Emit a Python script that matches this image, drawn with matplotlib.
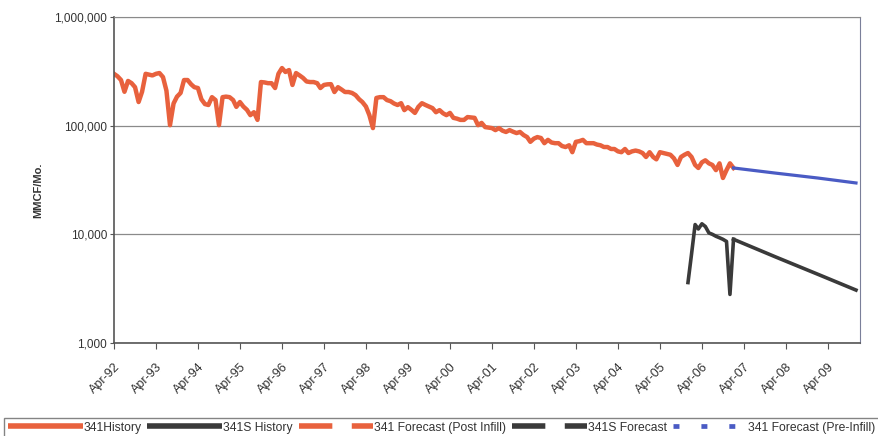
import numpy as np
import pandas as pd
import matplotlib
matplotlib.use("Agg")
import matplotlib.pyplot as plt
import matplotlib.dates as mdates
from matplotlib.lines import Line2D
from matplotlib.ticker import FuncFormatter, NullLocator

plt.rcParams['font.family'] = ['Liberation Sans', 'DejaVu Sans']
plt.rcParams['lines.scale_dashes'] = False

# monthly production, thousand MCF/mo
hist_341_start = "1992-04-01"
hist_341 = [
    300, 285, 263, 205, 258, 246, 226, 165, 205, 300, 295, 290,
    300, 305, 280, 210, 101, 160, 185, 200, 263, 263, 240, 226,
    222, 175, 158, 155, 183, 172, 101, 183, 185, 183, 172, 149,
    165, 150, 140, 125, 133, 113, 252, 250, 246, 246, 222, 300,
    339, 312, 325, 237, 305, 290, 275, 255, 252, 252, 246, 222,
    237, 240, 241, 204, 226, 215, 204, 204, 200, 191, 175, 165,
    150, 125, 95, 180, 183, 183, 172, 168, 160, 155, 161, 139,
    148, 140, 131, 149, 161, 155, 150, 145, 133, 139, 130, 125,
    131, 118, 116, 113, 113, 120, 119, 118, 101, 106, 97, 96,
    95, 91, 95, 90, 87.5, 91, 88, 85.5, 87.5, 82, 78.5, 71,
    76, 78.5, 77, 69, 74, 70, 69, 69, 65, 63.6, 66, 57,
    71, 72, 74, 69, 69, 69, 67, 66, 63.6, 63.6, 61, 61,
    58, 57, 61, 56, 58, 59, 58, 56, 51.5, 57, 51.5, 49,
    57, 56, 55, 54, 50, 43.5, 51.5, 54, 56, 51.5, 43.5, 40.8,
    46, 48, 45, 43.5, 39, 45, 33, 39, 45, 40.8,
]

hist_341s_start = "2005-12-01"
hist_341s = [3.6, 6.6, 12.3, 11.2, 12.5, 11.8, 10.3, 10.0, 9.6, 9.3, 9.0, 8.6, 2.8, 9.0]

fcst_dates = ["2007-01-01", "2008-01-01", "2009-01-01", "2009-12-01"]
fcst_341_pre = [40.8, 36.6, 33.0, 29.7]
fcst_341s = [9.0, 6.2, 4.3, 3.07]

ORANGE = "#E8613D"
DARK = "#3A3A3A"
BLUE = "#4A5BC4"

d341 = pd.date_range(hist_341_start, periods=len(hist_341), freq="MS")
d341s = pd.date_range(hist_341s_start, periods=len(hist_341s), freq="MS")
dfc = pd.to_datetime(fcst_dates)

fig = plt.figure(figsize=(8.79, 4.36), dpi=100)
ax = fig.add_axes([114 / 879, 1 - 343 / 436, (860 - 114) / 879, (343 - 17) / 436])

ax.plot(d341, np.array(hist_341) * 1000, color=ORANGE, lw=3.2, solid_joinstyle="round")
ax.plot(d341s, np.array(hist_341s) * 1000, color=DARK, lw=2.6)
ax.plot(dfc, np.array(fcst_341s) * 1000, color=DARK, lw=2.6)
ax.plot(dfc, np.array(fcst_341_pre) * 1000, color=BLUE, lw=2.3)

ax.set_yscale("log")
ax.set_ylim(1000, 1e6)
ax.yaxis.set_minor_locator(NullLocator())
ax.yaxis.set_major_formatter(FuncFormatter(lambda v, p: f"{v:,.0f}"))
ax.grid(axis="y", which="major", color="#8a8a8a", lw=0.9)

ax.set_xlim(pd.Timestamp("1992-04-01"), pd.Timestamp("2010-01-05"))
ax.xaxis.set_major_locator(mdates.MonthLocator(bymonth=4))
ax.xaxis.set_major_formatter(mdates.DateFormatter("%b-%y"))
ax.tick_params(axis="both", color="#555555", labelcolor="#333333")
ax.tick_params(axis="y", labelsize=8.5, length=3, pad=2)
ax.tick_params(axis="x", labelsize=9, length=4, pad=9)
for lbl in ax.get_xticklabels():
    lbl.set(rotation=45, ha="right", va="top", rotation_mode="anchor")

for side in ["left", "bottom"]:
    ax.spines[side].set_color("#555555")
    ax.spines[side].set_linewidth(1.2)
ax.spines["top"].set_color("#8a8a8a")
ax.spines["right"].set_color("#7a7f9a")

ax.set_ylabel("MMCF/Mo.", fontweight="bold", fontsize=8, color="#333333")
ax.yaxis.set_label_coords(-0.095, 0.47)

handles = [
    Line2D([], [], color=ORANGE, lw=4, solid_capstyle="butt"),
    Line2D([], [], color=DARK, lw=4, solid_capstyle="butt"),
    Line2D([], [], color=ORANGE, lw=4, dash_capstyle="butt", dashes=(24, 14)),
    Line2D([], [], color=DARK, lw=4, dash_capstyle="butt", dashes=(24, 14)),
    Line2D([], [], color=BLUE, lw=3.4, dash_capstyle="butt", dashes=(4.3, 15.8)),
]
labels = ["341History", "341S History", "341 Forecast (Post Infill)",
          "341S Forecast", "341 Forecast (Pre-Infill)"]
leg = fig.legend(handles, labels, loc="upper left", bbox_to_anchor=(4 / 879, 1 - 418 / 436),
                 ncol=5, fontsize=8.7, handlelength=6.2, handletextpad=0.05,
                 columnspacing=0.5, borderpad=0.3, borderaxespad=0,
                 frameon=True, fancybox=False, edgecolor="#666666")
leg.get_frame().set_linewidth(1.0)
for t in leg.get_texts():
    t.set_color("#333333")

fig.savefig("out.png", dpi=100)
